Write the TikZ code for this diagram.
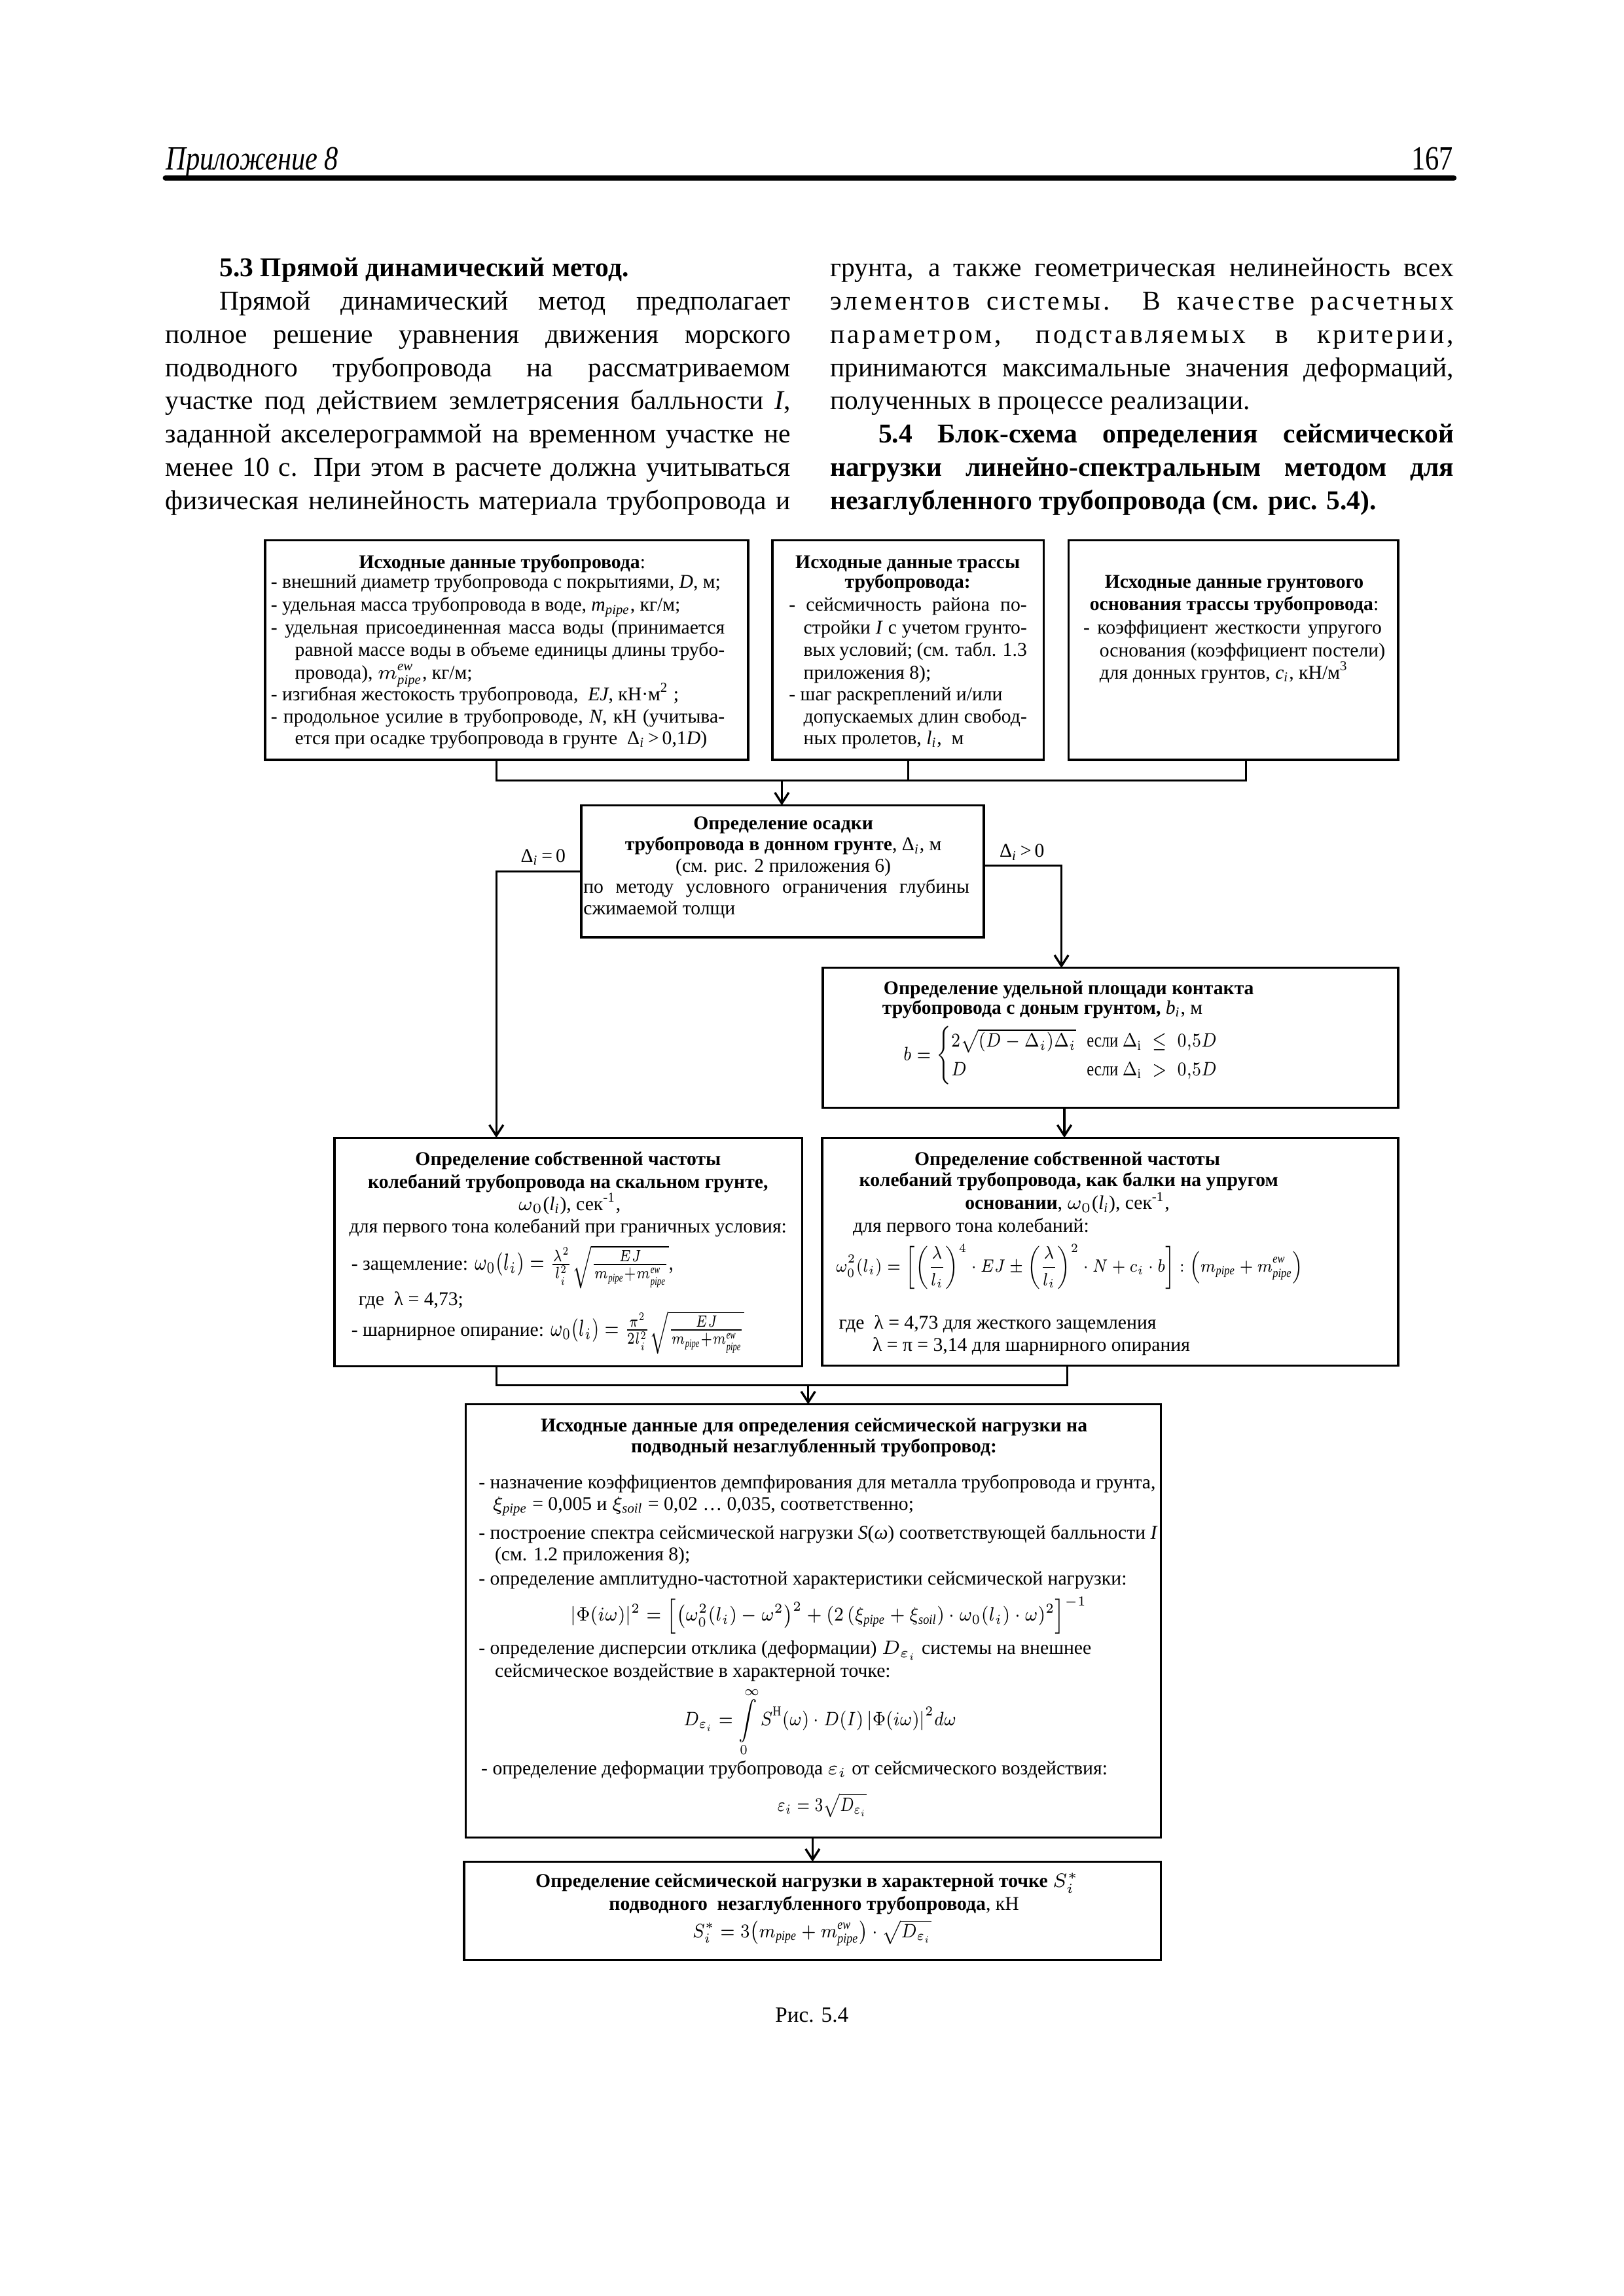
\documentclass[tikz,border=0pt]{standalone}
\usepackage{fix-cm}
\usepackage{amsmath}
\usepackage{graphicx}
\usepackage{fontspec}
\setmainfont{Liberation Serif}
\newfontfamily\spacedfont[LetterSpace=10]{Liberation Serif}
\usetikzlibrary{fit,arrows.meta}
\newcommand\bodyfs{\fontsize{10}{12}\selectfont}
\newcommand\boxfs{\fontsize{7.15}{8.1}\selectfont}
\newcommand\hdrfs{\fontsize{12.5}{14}\selectfont}
\newcommand\capfs{\fontsize{8}{9.6}\selectfont}
\newcommand\JLine[2]{\makebox[#1][s]{#2}}
\newcommand\fitw[2]{\resizebox{#1}{\height}{#2}}
\newcommand\mpp{m_{\textit{pipe}}}
\newcommand\mew{m_{\textit{pipe}}^{\textit{ew}}}
\newcommand\Di{Δ\textsubscript{\textit{i}}}
\tikzset{
  txt/.style={inner sep=0pt,outer sep=0pt,font=\boxfs,anchor=base west,text height=0.7em,text depth=0.18em},
  ctxt/.style={txt,anchor=base},
  mtxt/.style={inner sep=0pt,outer sep=0pt,font=\boxfs},
  body/.style={inner sep=0pt,outer sep=0pt,font=\bodyfs,anchor=base west},
  frame/.style={draw,line width=0.8pt,inner sep=0pt,outer sep=0pt},
  conn/.style={line width=0.8pt},
  arr/.style={conn,-{Straight Barb[length=1.4mm,width=1.8mm]}},
}
\begin{document}
\begin{tikzpicture}[x=0.18936mm,y=-0.189413mm]
\useasboundingbox (0,0) rectangle (1109,1568);
\fill[white] (0,0) rectangle (1109,1568);

% header
\node[inner sep=0pt,anchor=base west] (hdr) at (113,116) {\scalebox{0.82}[1]{\hdrfs\itshape Приложение 8}};
\node[inner sep=0pt,anchor=base east] (pg) at (993,116) {\scalebox{0.82}[1]{\hdrfs 167}};
\draw[line width=2pt,line cap=round] (113,121.5) -- (993,121.5);

% left column
\node[body] (p1) at (150,189) {\bfseries 5.3 Прямой динамический метод.};
\node[body] (p2) at (150,211.7) {\JLine{73.85mm}{Прямой динамический метод предполагает}};
\node[body] (p3) at (113,234.4) {\JLine{80.86mm}{полное решение уравнения движения морского}};
\node[body] (p4) at (113,257.1) {\JLine{80.86mm}{подводного трубопровода на рассматриваемом}};
\node[body] (p5) at (113,279.8) {\JLine{80.86mm}{участке под действием землетрясения балльности \textit{I},}};
\node[body] (p6) at (113,302.6) {\JLine{80.86mm}{заданной акселерограммой на временном участке не}};
\node[body] (p7) at (113,325.3) {\JLine{80.86mm}{менее 10 с. При этом в расчете должна учитываться}};
\node[body] (p8) at (113,348.0) {\JLine{80.86mm}{физическая нелинейность материала трубопровода и}};
% right column
\node[body] (q1) at (567,189) {\JLine{80.67mm}{грунта, а также геометрическая нелинейность всех}};
\node[body] (q2) at (567,211.7) {\JLine{80.67mm}{\spacedfont элементов системы. В качестве расчетных}};
\node[body] (q3) at (567,234.4) {\JLine{80.67mm}{\spacedfont параметром, подставляемых в критерии,}};
\node[body] (q4) at (567,257.1) {\JLine{80.67mm}{принимаются максимальные значения деформаций,}};
\node[body] (q5) at (567,279.8) {полученных в процессе реализации.};
\node[body] (q6) at (600,302.6) {\JLine{74.42mm}{\bfseries 5.4 Блок-схема определения сейсмической}};
\node[body] (q7) at (567,325.3) {\JLine{80.67mm}{\bfseries нагрузки линейно-спектральным методом для}};
\node[body] (q8) at (567,348.0) {\bfseries незаглубленного трубопровода (см. рис. 5.4).};

% boxes
\node[frame,fit={(181,369) (511,519)}] (A) {};
\node[frame,fit={(527.5,369) (713,519)}] (B) {};
\node[frame,fit={(730,369) (955,519)}] (C) {};
\node[frame,fit={(397,550) (672,640)}] (D) {};
\node[frame,fit={(562,661) (955,756.5)}] (E) {};
\node[frame,fit={(228.5,777) (548,933)}] (F) {};
\node[frame,fit={(561.5,777) (955,932.5)}] (G) {};
\node[frame,fit={(318,959) (792.8,1255)}] (H) {};
\node[frame,fit={(317,1271.4) (792.8,1338.5)}] (I) {};

% box A
\node[ctxt] (a0) at (343,388.3) {{\bfseries Исходные данные трубопровода}:};
\node[txt] (a1) at (185,401.7) {- внешний диаметр трубопровода с покрытиями, \textit{D}, м;};
\node[txt] (a2) at (185,417.4) {- удельная масса трубопровода в воде, \textit{m\textsubscript{pipe}}, кг/м;};
\node[txt] (a3) at (185,433) {\JLine{58.70mm}{- удельная присоединенная масса воды (принимается}};
\node[txt] (a4) at (201.5,448) {\JLine{55.58mm}{равной массе воды в объеме единицы длины трубо-}};
\node[txt] (a5) at (201.5,463.6) {провода), $\mew$, кг/м;};
\node[txt] (a6) at (185,478.4) {- изгибная жестокость трубопровода,~ \textit{EJ}, кН·м\textsuperscript{2} ;};
\node[txt] (a7) at (185,493.5) {\JLine{58.70mm}{- продольное усилие в трубопроводе, \textit{N}, кН (учитыва-}};
\node[txt] (a8) at (201.5,508.3) {ется при осадке трубопровода в грунте~ \Di\,>\,0,1\textit{D})};

% box B
\node[ctxt] (b0) at (620,388.3) {\bfseries Исходные данные трассы};
\node[ctxt] (b1) at (620,401.7) {\bfseries трубопровода:};
\node[txt] (b2) at (538.9,417.4) {\JLine{30.77mm}{- сейсмичность района по-}};
\node[txt] (b3) at (548.9,433) {\JLine{28.88mm}{стройки \textit{I} с учетом грунто-}};
\node[txt] (b4) at (548.9,448) {\JLine{28.88mm}{вых условий; (см. табл. 1.3}};
\node[txt] (b5) at (548.9,463.6) {приложения 8);};
\node[txt] (b6) at (538.9,478.4) {- шаг раскреплений и/или};
\node[txt] (b7) at (548.9,493.5) {\JLine{28.88mm}{допускаемых длин свобод-}};
\node[txt] (b8) at (548.9,508.3) {ных пролетов, \textit{l\textsubscript{i}},~ м};

% box C
\node[ctxt] (c0) at (843,401.7) {\bfseries Исходные данные грунтового};
\node[ctxt] (c1) at (843,416.6) {{\bfseries основания трассы трубопровода}:};
\node[txt] (c2) at (740,433) {\JLine{38.59mm}{- коэффициент жесткости упругого}};
\node[txt] (c3) at (751,448.7) {основания (коэффициент постели)};
\node[txt] (c4) at (751,463.6) {для донных грунтов, \textit{c\textsubscript{i}}, кН/м\textsuperscript{3}};

% box D
\node[ctxt] (d0) at (535,566.5) {\bfseries Определение осадки};
\node[ctxt] (d1) at (535,581) {{\bfseries трубопровода в донном грунте}, \Di, м};
\node[ctxt] (d2) at (535,595.5) {(см. рис. 2 приложения 6)};
\node[txt] (d3) at (398.5,610) {\JLine{49.92mm}{по методу условного ограничения глубины}};
\node[txt] (d4) at (398.5,624.5) {сжимаемой толщи};

% branch labels
\node[ctxt] (lz) at (371,589) {\Di\,=\,0};
\node[ctxt] (lp) at (698,585.5) {\Di\,>\,0};

% box E
\node[ctxt] (e0) at (730,679) {\bfseries Определение удельной площади контакта};
\node[ctxt] (e1) at (712,692.5) {{\bfseries трубопровода с доным грунтом,} \textit{b\textsubscript{i}}, м};
\node[mtxt,anchor=west] (e2) at (617,721) {\fitw{40.9mm}{{\renewcommand\arraystretch{1.3}$b=\left\{\begin{array}{@{}l@{\;\;}r@{}}2\sqrt{(D-\Delta_i)\Delta_i} & \text{если }\Delta_{\mathrm{i}}\;\le\;0{,}5D\\ D & \text{если }\Delta_{\mathrm{i}}\;>\;0{,}5D\end{array}\right.$}}};

% box F
\node[ctxt] (f0) at (388,796) {\bfseries Определение собственной частоты};
\node[ctxt] (f1) at (388,811.5) {\bfseries колебаний трубопровода на скальном грунте,};
\node[ctxt] (f2) at (389,826.5) {$\omega_0$(\textit{l\textsubscript{i}}), сек\textsuperscript{-1},};
\node[ctxt] (f3) at (388,842) {для первого тона колебаний при граничных условия:};
\node[txt] (f4) at (240,867.5) {- защемление: \resizebox{25.7mm}{1.2\height}{$\omega_0(l_i)=\frac{\lambda^2}{l_i^2}\sqrt{\frac{EJ}{\mpp+\mew}}$,}};
\node[txt] (f5) at (245,891.5) {где~ λ = 4,73;};
\node[txt] (f6) at (240,912.3) {- шарнирное опирание: \resizebox{25.1mm}{1.2\height}{$\omega_0(l_i)=\frac{\pi^2}{2l_i^2}\sqrt{\frac{EJ}{\mpp+\mew}}$}};

% box G
\node[ctxt] (g0) at (729,796) {\bfseries Определение собственной частоты};
\node[ctxt] (g1) at (730,810) {\bfseries колебаний трубопровода, как балки на упругом};
\node[ctxt] (g2) at (729,826) {{\bfseries основании}, $\omega_0$(\textit{l\textsubscript{i}}), сек\textsuperscript{-1},};
\node[txt] (g3) at (582.6,841.5) {для первого тона колебаний:};
\node[mtxt,anchor=west] (g4) at (571,865) {\resizebox{60.4mm}{0.92\height}{$\displaystyle\omega_0^2(l_i)=\left[\left(\frac{\lambda}{l_i}\right)^{4}\cdot EJ\pm\left(\frac{\lambda}{l_i}\right)^{2}\cdot N+c_i\cdot b\right]:\left(\mpp+\mew\right)$}};
\node[txt] (g5) at (573,907.7) {где~ λ = 4,73 для жесткого защемления};
\node[txt] (g6) at (596,922.7) {λ = π = 3,14 для шарнирного опирания};

% box H
\node[ctxt] (h0) at (556,977.8) {\bfseries Исходные данные для определения сейсмической нагрузки на};
\node[ctxt] (h1) at (556,992) {\bfseries подводный незаглубленный трубопровод:};
\node[txt] (h2) at (327,1016.6) {- назначение коэффициентов демпфирования для металла трубопровода и грунта,};
\node[txt] (h3) at (336.5,1031.5) {$\xi_{\textit{pipe}}$ = 0,005 и $\xi_{\textit{soil}}$ = 0,02 … 0,035, соответственно;};
\node[txt] (h4) at (327,1050.9) {- построение спектра сейсмической нагрузки \textit{S}(\textit{ω}) соответствующей балльности \textit{I}};
\node[txt] (h5) at (338,1065.8) {(см. 1.2 приложения 8);};
\node[txt] (h6) at (327,1082.2) {- определение амплитудно-частотной характеристики сейсмической нагрузки:};
\node[mtxt] (h7) at (566,1103) {\fitw{66.8mm}{$|\Phi(i\omega)|^2=\left[\left(\omega_0^2(l_i)-\omega^2\right)^2+\left(2\left(\xi_{\textit{pipe}}+\xi_{\textit{soil}}\right)\cdot\omega_0(l_i)\cdot\omega\right)^2\right]^{-1}$}};
\node[txt] (h8) at (327,1129.9) {- определение дисперсии отклика (деформации) $D_{\varepsilon_i}$ системы на внешнее};
\node[txt] (h9) at (338,1145.5) {сейсмическое воздействие в характерной точке:};
\node[mtxt] (h10) at (560,1176) {\fitw{35.3mm}{$\displaystyle D_{\varepsilon_i}=\int\limits_0^{\infty}S^{\text{Н}}(\omega)\cdot D(I)\,|\Phi(i\omega)|^2d\omega$}};
\node[txt] (h11) at (328.7,1211.8) {- определение деформации трубопровода $\varepsilon_i$ от сейсмического воздействия:};
\node[mtxt] (h12) at (561.5,1232.7) {\fitw{11.55mm}{$\displaystyle\varepsilon_i=3\sqrt{D_{\varepsilon_i}}$}};

% box I
\node[ctxt] (i0) at (551.3,1289) {\bfseries Определение сейсмической нагрузки в характерной точке $S_i^*$};
\node[ctxt] (i1) at (556,1304.5) {{\bfseries подводного~ незаглубленного трубопровода}, кН};
\node[mtxt] (i2) at (554.5,1320) {\fitw{30.9mm}{$S_i^*=3\bigl(\mpp+\mew\bigr)\cdot\sqrt{D_{\varepsilon_i}}$}};

% caption
\node[inner sep=0pt,anchor=base,font=\capfs] (cap) at (554.5,1381) {Рис. 5.4};

% connectors
\coordinate (t1) at (339,533);
\coordinate (t2) at (851,533);
\coordinate (t3) at (534,533);
\draw[conn] (t1 |- A.south) -- (t1) -- (t2) -- (t2 |- C.south);
\draw[conn] (B.south) -- (B.south |- t1);
\draw[arr] (t3) -- (t3 |- D.north);
\coordinate (l1) at (339,595);
\draw[arr] (l1 -| D.west) -- (l1) -- (l1 |- F.north);
\coordinate (r1) at (725,591);
\draw[arr] (r1 -| D.east) -- (r1) -- (r1 |- E.north);
\coordinate (eg) at (727,767);
\draw[arr] (eg |- E.south) -- (eg |- G.north);
\coordinate (m1) at (339,946);
\coordinate (m2) at (729,946);
\coordinate (m3) at (552,946);
\draw[conn] (m1 |- F.south) -- (m1) -- (m2) -- (m2 |- G.south);
\draw[arr] (m3) -- (m3 |- H.north);
\coordinate (hi) at (555,1263);
\draw[arr] (hi |- H.south) -- (hi |- I.north);
\end{tikzpicture}
\end{document}
